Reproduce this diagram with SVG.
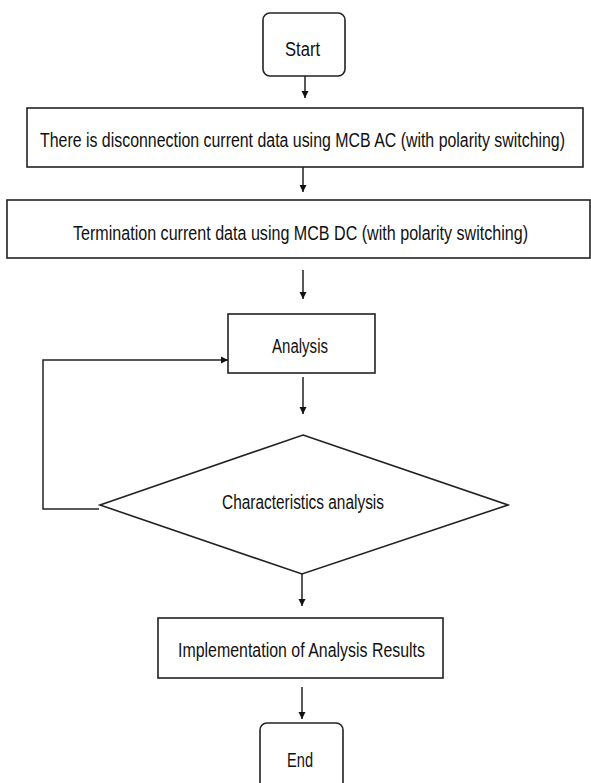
<svg xmlns="http://www.w3.org/2000/svg" width="591" height="783" viewBox="0 0 591 783">
<defs>
<marker id="ah" viewBox="0 0 10 10" refX="10" refY="5" markerWidth="7" markerHeight="8" markerUnits="userSpaceOnUse" orient="auto">
<path d="M0,0 L10,5 L0,10 z" fill="#111"/>
</marker>
<style>
.box{fill:#fff;stroke:#222;stroke-width:1.6}
.ar{fill:none;stroke:#222;stroke-width:1.5;marker-end:url(#ah)}
text{font-family:"Liberation Sans",Arial,sans-serif;font-size:16px;fill:#111;text-anchor:middle}
</style>
</defs>
<rect width="591" height="783" fill="#fff"/>
<g id="start">
<rect class="box" x="263" y="13" width="82" height="63" rx="7"/>
<text transform="translate(302.5,56) scale(1,1.3)" textLength="35" lengthAdjust="spacingAndGlyphs">Start</text>
</g>
<g id="box1">
<rect class="box" x="27" y="108" width="556" height="59"/>
<text transform="translate(302.5,147) scale(1,1.3)" textLength="525" lengthAdjust="spacingAndGlyphs">There is disconnection current data using MCB AC (with polarity switching)</text>
</g>
<g id="box2">
<rect class="box" x="7" y="200" width="583" height="58"/>
<text transform="translate(300.5,240) scale(1,1.3)" textLength="455" lengthAdjust="spacingAndGlyphs">Termination current data using MCB DC (with polarity switching)</text>
</g>
<g id="analysis">
<rect class="box" x="228" y="314" width="147" height="59"/>
<text transform="translate(300,353) scale(1,1.3)" textLength="56" lengthAdjust="spacingAndGlyphs">Analysis</text>
</g>
<g id="decision">
<polygon class="box" points="303,435 508,505 302,574 100,505"/>
<text transform="translate(303,509) scale(1,1.3)" textLength="162" lengthAdjust="spacingAndGlyphs">Characteristics analysis</text>
</g>
<g id="implementation">
<rect class="box" x="158" y="618" width="285" height="60"/>
<text transform="translate(301.5,657) scale(1,1.3)" textLength="247" lengthAdjust="spacingAndGlyphs">Implementation of Analysis Results</text>
</g>
<g id="end">
<rect class="box" x="260" y="723" width="83" height="75" rx="7"/>
<text transform="translate(300,767) scale(1,1.3)" textLength="26" lengthAdjust="spacingAndGlyphs">End</text>
</g>
<g id="connectors">
<line class="ar" x1="305" y1="76" x2="305" y2="98"/>
<line class="ar" x1="303" y1="167" x2="303" y2="192"/>
<line class="ar" x1="303" y1="270" x2="303" y2="299"/>
<line class="ar" x1="303" y1="377" x2="303" y2="414"/>
<line class="ar" x1="302" y1="574" x2="302" y2="606"/>
<line class="ar" x1="302" y1="687" x2="302" y2="719"/>
<polyline class="ar" points="99,509 43,509 43,360 228,360"/>
</g>
</svg>
